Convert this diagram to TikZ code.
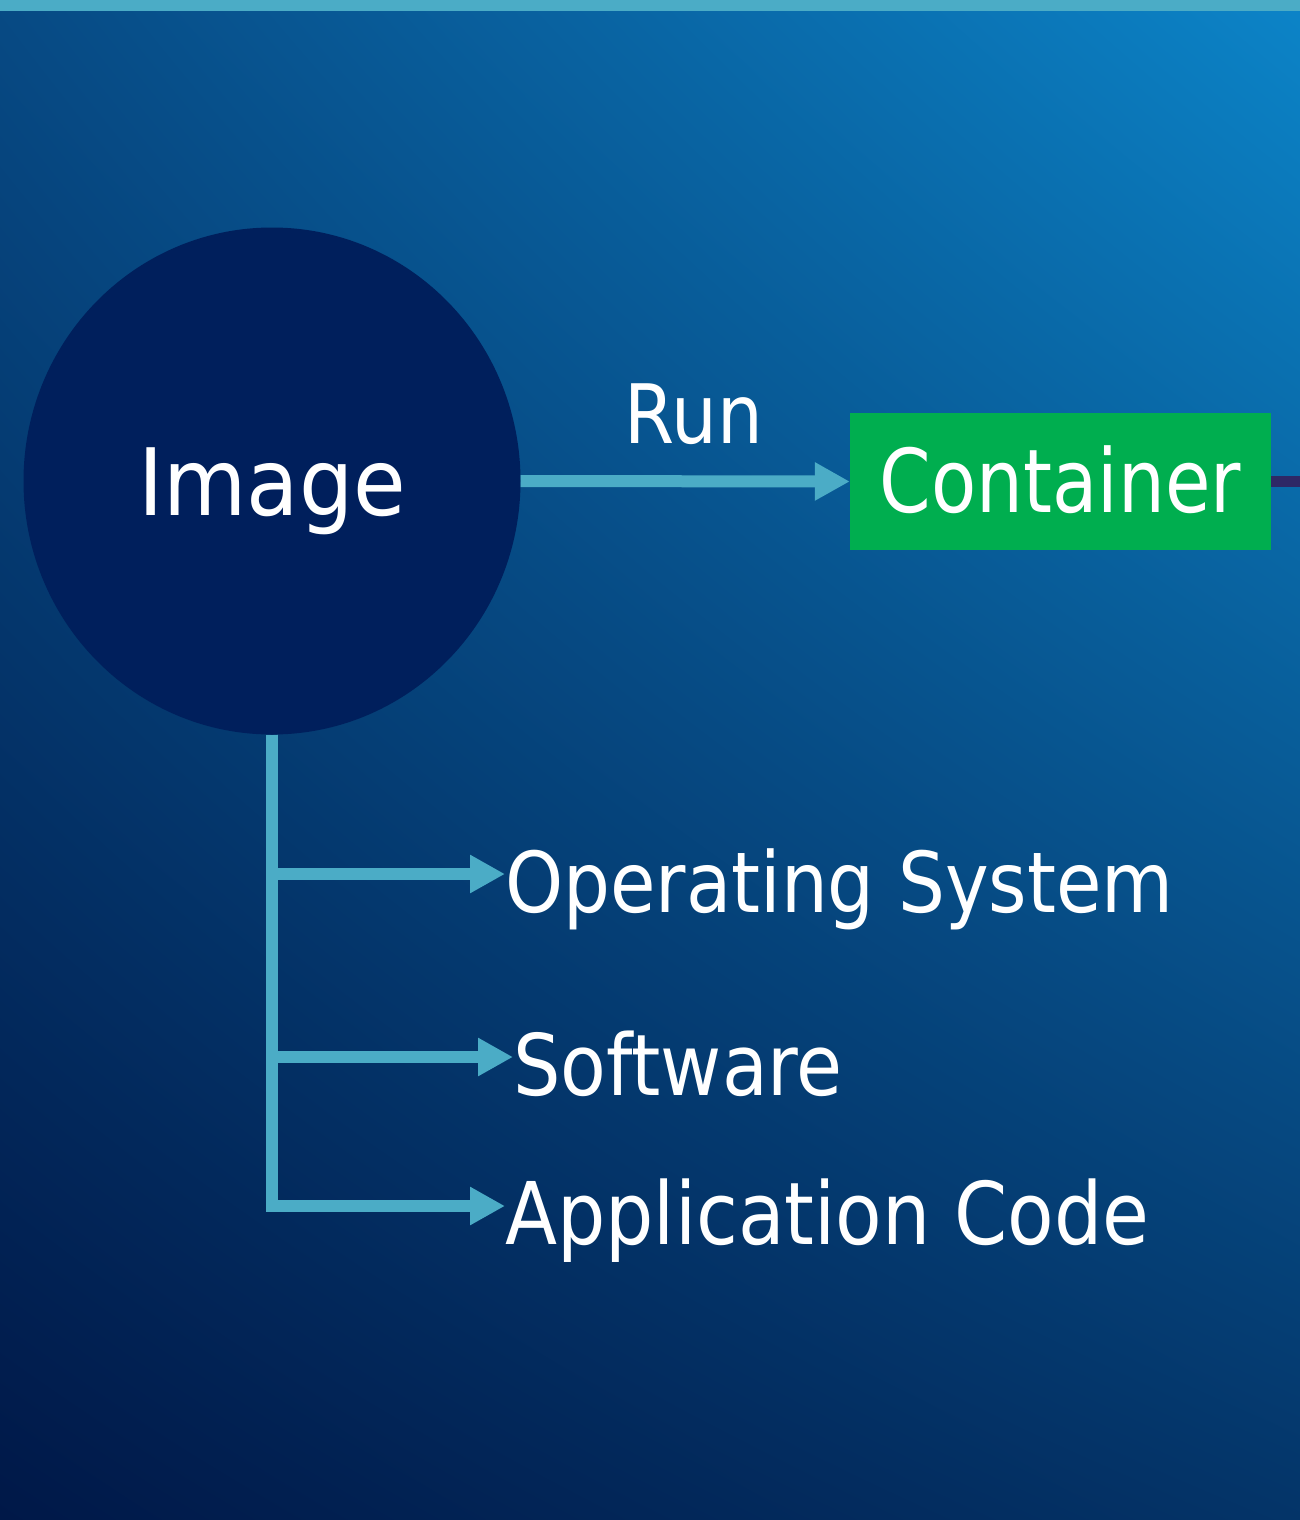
\documentclass[tikz,border=0pt]{standalone}
\usepackage{fontspec}
\usetikzlibrary{shapes.geometric,arrows.meta}
\newfontfamily\diagfont{DejaVu Sans}[FakeStretch=0.88]
\newfontfamily\diagfontwide{DejaVu Sans}[FakeStretch=0.92]
\newfontfamily\diagfontnarrow{DejaVu Sans}[FakeStretch=0.84]
\definecolor{barcyan}{HTML}{4BACC6}
\definecolor{navyfill}{HTML}{001F5C}
\definecolor{boxgreen}{HTML}{00AE4F}
\definecolor{tailpurple}{HTML}{2E2866}

% bilinear backdrop: dark navy lower left, bright blue upper right
\pgfdeclarefunctionalshading{backdrop}{\pgfpoint{0bp}{0bp}}{\pgfpoint{100bp}{100bp}}{}{
  25 sub 50 div exch 25 sub 50 div exch
  2 copy mul
  2 index 0.016 mul 2 index 0.027 mul add 1 index 0.004 mul add
  3 index 0.110 mul 3 index 0.196 mul add 2 index 0.118 mul add 0.094 add
  4 index 0.126 mul 4 index 0.236 mul add 3 index 0.140 mul add 0.282 add
  6 3 roll pop pop pop
}

\begin{document}
\begin{tikzpicture}[x=1pt,y=-1pt,
  link/.style={draw=barcyan, line width=12pt, -{Triangle[length=35pt,width=36pt]}},
  lbl/.style={text=white, inner sep=0pt},
  item/.style={lbl, anchor=west, text height=76pt, text depth=0pt,
    font=\diagfont\fontsize{85}{100}\selectfont},
]
\useasboundingbox (0,0) rectangle (1300,1520);

% backdrop and top rule
\shade[shading=backdrop] (0,0) rectangle (1300,1520);
\fill[barcyan] (0,0) rectangle (1300,11);

% main nodes
\node[ellipse, fill=navyfill, minimum width=497pt, minimum height=507pt, lbl,
  text height=68pt, text depth=0pt, font=\diagfontwide\fontsize{93}{100}\selectfont]
  (img) at (272,481) {Image};
\node[rectangle, fill=boxgreen, minimum width=421pt, minimum height=137pt, lbl,
  text height=62pt, text depth=0pt, font=\diagfontnarrow\fontsize{88}{100}\selectfont]
  (ct) at (1060.5,481.5) {Container};

% contents of the image
\node[item, font=\diagfont\fontsize{84}{100}\selectfont] (os) at (505,874) {Operating System};
\node[item] (sw) at (513,1057) {Software};
\node[item, font=\diagfont\fontsize{86.5}{100}\selectfont] (ac) at (505,1206) {Application Code};

% connectors
\draw[link] (img.east) -- (ct.west)
  node[midway, lbl, anchor=base, xshift=8.5pt, yshift=38pt,
    font=\diagfont\fontsize{82}{100}\selectfont] (run) {Run};
\coordinate (tailend) at (1300,481.5);
\draw[tailpurple, line width=11pt] (ct.east) -- (tailend);

\draw[link] (img.south) |- (os.west);
\draw[link] (img.south) |- (sw.west);
\draw[link] (img.south) |- (ac.west);
\end{tikzpicture}
\end{document}
